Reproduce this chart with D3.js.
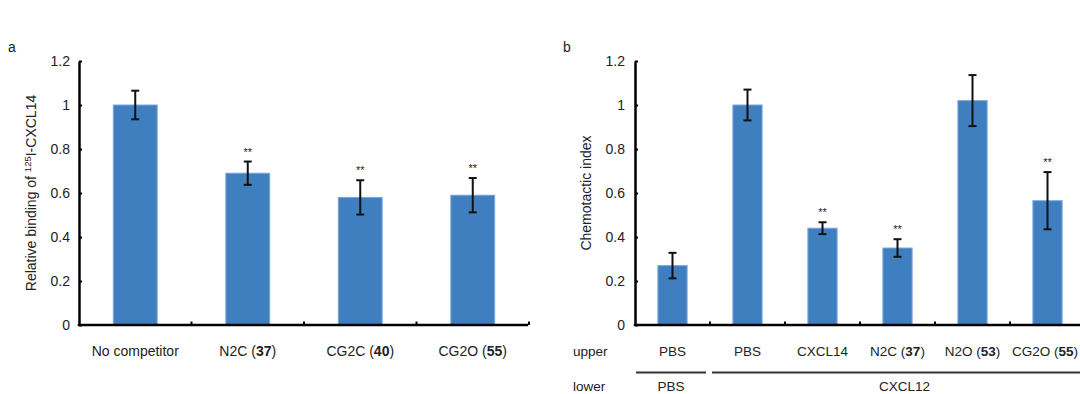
<!DOCTYPE html>
<html>
<head>
<meta charset="utf-8">
<script src="https://cdn.jsdelivr.net/npm/d3@7"></script>
<style>
  html, body { margin: 0; padding: 0; background: #fff; }
  svg { display: block; font-family: "Liberation Sans", Arial, sans-serif; }
</style>
</head>
<body>
<svg id="chart" width="1080" height="394"></svg>
<script>
// ---- Panel a: competition binding ----
const namesA = ["No competitor", "N2C", "CG2C", "CG2O"];
const compoundsA = [null, "37", "40", "55"];
const meansA = [1.0, 0.69, 0.58, 0.59];
const errorsA = [0.065, 0.053, 0.078, 0.078];
const starsA = ["", "**", "**", "**"];

// ---- Panel b: chemotaxis ----
const upperNamesB = ["PBS", "PBS", "CXCL14", "N2C", "N2O", "CG2O"];
const compoundsB = [null, null, null, "37", "53", "55"];
const meansB = [0.27, 1.0, 0.44, 0.35, 1.02, 0.565];
const errorsB = [0.058, 0.07, 0.027, 0.04, 0.116, 0.13];
const starsB = ["", "", "**", "**", "", "**"];
const lowerNamesB = ["PBS", "CXCL12"];
const lowerSpansB = [[0, 0], [1, 5]];

// ---- shared y axis ----
const yTicks = [0, 0.2, 0.4, 0.6, 0.8, 1, 1.2];
const yTickLabels = ["0", "0.2", "0.4", "0.6", "0.8", "1", "1.2"];

const W = 1080;
const svg = d3.select("#chart");
const FONT = 14;
const barFill = "#3f7fc0";
const barEdge = "#7ba9dc";

const y = d3.scaleLinear().domain([0, 1.2]).range([325, 61]);

function drawPanel(opts) {
  const g = svg.append("g");
  const x = d3.scaleBand()
    .domain(d3.range(opts.means.length))
    .range([opts.x0, opts.x1])
    .paddingInner(0.61)
    .paddingOuter(0.305);
  const step = x.step();

  // bars
  g.selectAll("rect.bar").data(opts.means).join("rect")
    .attr("class", "bar")
    .attr("x", (d, i) => x(i))
    .attr("width", x.bandwidth())
    .attr("y", d => y(d))
    .attr("height", d => y(0) - y(d))
    .attr("fill", barFill)
    .attr("stroke", barEdge)
    .attr("stroke-width", 1);

  // error bars
  const eb = g.selectAll("g.err").data(opts.means).join("g").attr("class", "err")
    .attr("transform", (d, i) => `translate(${x(i) + x.bandwidth() / 2},0)`);
  eb.append("line")
    .attr("y1", (d, i) => y(d + opts.errors[i]))
    .attr("y2", (d, i) => y(d - opts.errors[i]))
    .attr("stroke", "#111").attr("stroke-width", 2);
  eb.append("line")
    .attr("x1", -4).attr("x2", 4)
    .attr("y1", (d, i) => y(d + opts.errors[i]))
    .attr("y2", (d, i) => y(d + opts.errors[i]))
    .attr("stroke", "#111").attr("stroke-width", 2);
  eb.append("line")
    .attr("x1", -4).attr("x2", 4)
    .attr("y1", (d, i) => y(d - opts.errors[i]))
    .attr("y2", (d, i) => y(d - opts.errors[i]))
    .attr("stroke", "#111").attr("stroke-width", 2);

  // significance marks
  eb.append("text")
    .attr("y", (d, i) => y(d + opts.errors[i]) - 6)
    .attr("text-anchor", "middle")
    .attr("font-size", 11)
    .attr("fill", "#222")
    .text((d, i) => opts.stars[i]);

  // y axis: ticks point inward
  const yAxis = d3.axisLeft(y)
    .tickValues(yTicks)
    .tickFormat((d, i) => yTickLabels[i])
    .tickSizeInner(-3)
    .tickSizeOuter(0)
    .tickPadding(opts.tickPad);
  const ya = g.append("g").attr("transform", `translate(${opts.x0},0)`).call(yAxis);
  ya.select(".domain").attr("stroke", "#000").attr("stroke-width", 2.5);
  ya.selectAll(".tick line").attr("stroke", "#000").attr("stroke-width", 2);
  ya.selectAll(".tick text").attr("font-size", FONT).attr("fill", "#222")
    .attr("font-family", "Liberation Sans, Arial, sans-serif");

  // x axis baseline with category separators
  g.append("line")
    .attr("x1", opts.x0 - 1.25).attr("x2", opts.xEnd)
    .attr("y1", y(0)).attr("y2", y(0))
    .attr("stroke", "#000").attr("stroke-width", 2.5);
  g.selectAll("line.sep").data(d3.range(1, opts.means.length + 1)).join("line")
    .attr("class", "sep")
    .attr("x1", i => opts.x0 + i * step).attr("x2", i => opts.x0 + i * step)
    .attr("y1", y(0)).attr("y2", y(0) - 3.5)
    .attr("stroke", "#000").attr("stroke-width", 2);

  // category labels (compound numbers in bold)
  const lbl = g.selectAll("text.cat").data(opts.names).join("text")
    .attr("class", "cat")
    .attr("x", (d, i) => x(i) + x.bandwidth() / 2)
    .attr("y", 356)
    .attr("text-anchor", "middle")
    .attr("font-size", opts.catFont)
    .attr("fill", "#222");
  lbl.each(function (d, i) {
    const t = d3.select(this);
    if (opts.compounds[i]) {
      t.append("tspan").text(d + " (");
      t.append("tspan").attr("font-weight", "bold").text(opts.compounds[i]);
      t.append("tspan").text(")");
    } else {
      t.text(d);
    }
    // keep the last label inside the drawing area
    const w = this.getComputedTextLength();
    const cx = +t.attr("x");
    if (cx + w / 2 > W - 2) t.attr("x", W - 2 - w / 2);
  });

  // y axis title
  const title = g.append("text")
    .attr("transform", `translate(${opts.titleX},193) rotate(-90)`)
    .attr("text-anchor", "middle")
    .attr("font-size", FONT)
    .attr("fill", "#222");
  opts.title(title);

  // panel letter
  g.append("text")
    .attr("x", opts.letterX).attr("y", 52)
    .attr("font-size", FONT).attr("fill", "#222")
    .text(opts.letter);

  return { x, step };
}

drawPanel({
  x0: 79, x1: 529, xEnd: 528, tickPad: 9, catFont: 14,
  means: meansA, errors: errorsA, stars: starsA,
  names: namesA, compounds: compoundsA,
  titleX: 36, letter: "a", letterX: 8,
  title: t => {
    t.append("tspan").text("Relative binding of ");
    t.append("tspan").attr("font-size", 9.5).attr("dy", -5).text("125");
    t.append("tspan").attr("dy", 5).text("I-CXCL14");
  }
});

const pb = drawPanel({
  x0: 635, x1: 1085, xEnd: 1085, tickPad: 10, catFont: 13.5,
  means: meansB, errors: errorsB, stars: starsB,
  names: upperNamesB, compounds: compoundsB,
  titleX: 591, letter: "b", letterX: 563,
  title: t => t.text("Chemotactic index")
});

// row headers for the chamber conditions
svg.append("text").attr("x", 573).attr("y", 356)
  .attr("font-size", 13.5).attr("fill", "#222").text("upper");
svg.append("text").attr("x", 573).attr("y", 390.5)
  .attr("font-size", 13.5).attr("fill", "#222").text("lower");

// lower-chamber group brackets
lowerSpansB.forEach((span, k) => {
  const start = 635 + span[0] * pb.step + (k === 0 ? 1 : 2);
  const end = k === lowerSpansB.length - 1 ? 1097 : 635 + (span[1] + 1) * pb.step - 4;
  svg.append("line")
    .attr("x1", start).attr("x2", end)
    .attr("y1", 372.5).attr("y2", 372.5)
    .attr("stroke", "#333").attr("stroke-width", 2);
  svg.append("text")
    .attr("x", (start + end) / 2).attr("y", 390.5)
    .attr("text-anchor", "middle")
    .attr("font-size", 13.5).attr("fill", "#222")
    .text(lowerNamesB[k]);
});
</script>
</body>
</html>
